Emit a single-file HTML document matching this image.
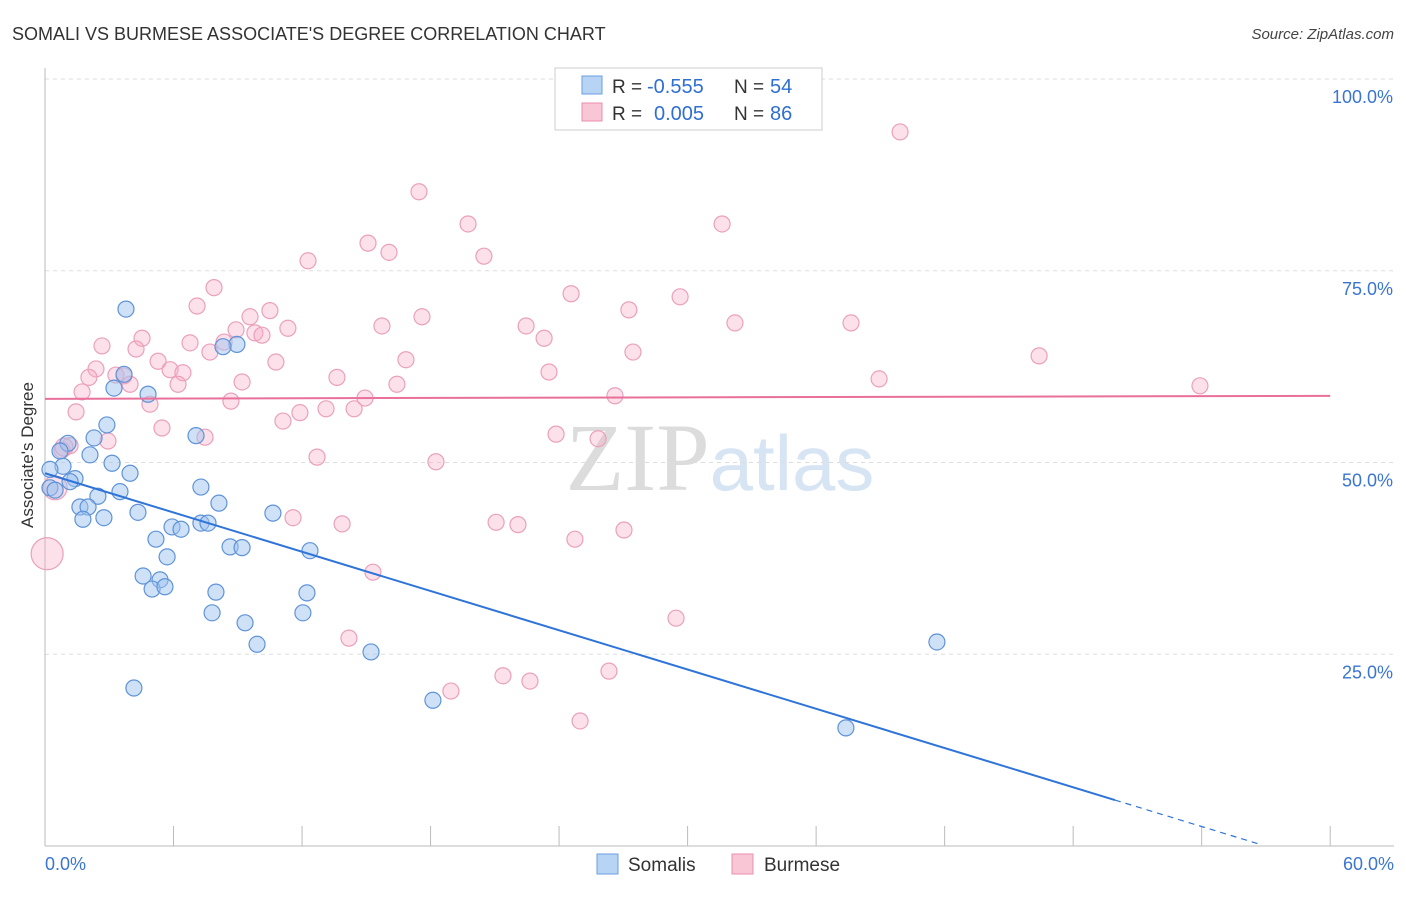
<!DOCTYPE html>
<html><head><meta charset="utf-8"><style>
body{margin:0;background:#fff;font-family:"Liberation Sans",sans-serif;}
svg text{font-family:"Liberation Sans",sans-serif;}
</style></head><body>
<svg id="chart" width="1406" height="892" xmlns="http://www.w3.org/2000/svg">
<text x="12" y="40" font-size="18" fill="#333">SOMALI VS BURMESE ASSOCIATE'S DEGREE CORRELATION CHART</text>
<text x="1394" y="39" font-size="15" fill="#444" font-style="italic" text-anchor="end">Source: ZipAtlas.com</text>
<text x="720" y="490" font-size="96" text-anchor="middle" fill="#e4e4e4"><tspan font-family="Liberation Serif" fill="#dcdcdc">ZIP</tspan><tspan fill="#d6e4f4" font-size="78">atlas</tspan></text>
<g id="grid"></g>
<g id="axes"></g>
<g id="pts"></g>
<g id="trends"></g>
<text transform="translate(33,455) rotate(-90)" font-size="17" fill="#333" text-anchor="middle">Associate's Degree</text>
<g>
<rect x="555" y="68" width="267" height="62" fill="#fff" stroke="#ccc"/>
<rect x="582" y="76" width="20" height="18" fill="#b8d4f4" stroke="#6a9ee0"/>
<rect x="582" y="103" width="20" height="18" fill="#f9c6d6" stroke="#e890b0"/>
<text x="612" y="93" font-size="19" fill="#333">R =</text>
<text x="647" y="93" font-size="20" fill="#2f6fd0">-0.555</text>
<text x="734" y="93" font-size="19" fill="#333">N =</text>
<text x="770" y="93" font-size="20" fill="#2f6fd0">54</text>
<text x="612" y="120" font-size="19" fill="#333">R =</text>
<text x="654" y="120" font-size="20" fill="#2f6fd0">0.005</text>
<text x="734" y="120" font-size="19" fill="#333">N =</text>
<text x="770" y="120" font-size="20" fill="#2f6fd0">86</text>
</g>
<g>
<rect x="597" y="854" width="21" height="20" fill="#b8d4f4" stroke="#6a9ee0"/>
<text x="628" y="871" font-size="19" fill="#333">Somalis</text>
<rect x="732" y="854" width="21" height="20" fill="#f9c6d6" stroke="#e890b0"/>
<text x="764" y="871" font-size="19" fill="#333">Burmese</text>
</g>
</svg>
<script>
const xTicks=[0,6,12,18,24,30,36,42,48,54,60];
const yTickVals=[25,50,75,100];
const yTickLabels=["25.0%","50.0%","75.0%","100.0%"];
const xEndLabels=["0.0%","60.0%"];
const somaliX=[3.78,3.22,3.69,4.81,2.89,2.29,1.07,0.70,2.10,0.84,0.23,3.13,3.97,1.40,1.17,0.23,0.47,2.47,3.50,1.63,2.01,1.77,2.75,4.34,7.05,7.28,8.12,5.93,6.35,7.28,7.61,5.18,5.70,4.58,5.37,5.00,5.60,7.98,7.80,8.64,9.20,9.34,9.90,10.64,12.37,12.23,12.04,8.96,8.31,4.15,15.22,18.11,41.64,37.39];
const somaliY=[70.0,59.7,61.5,58.9,54.9,53.2,52.5,51.5,51.0,49.5,49.1,49.9,48.6,47.9,47.5,46.7,46.4,45.6,46.2,44.2,44.2,42.6,42.8,43.5,53.5,46.8,44.7,41.6,41.3,42.1,42.1,40.0,37.7,35.2,34.7,33.5,33.8,33.1,30.4,39.0,38.9,29.1,26.3,43.4,38.5,33.0,30.4,65.4,65.1,20.6,25.3,19.0,26.6,15.4];
const burmeseX=[39.92,17.46,19.75,31.61,15.08,16.06,20.49,12.28,7.89,24.56,29.65,7.10,27.26,10.50,17.60,9.57,8.92,11.34,15.73,22.46,32.21,37.63,4.53,9.80,10.13,23.30,2.66,6.77,8.36,7.70,4.25,27.45,5.28,10.78,16.85,46.41,2.38,5.84,6.44,3.31,2.05,3.69,3.97,13.63,23.53,6.21,9.20,16.43,38.94,53.92,1.73,26.61,14.94,8.68,4.90,1.45,13.12,14.43,11.90,11.11,5.46,7.47,2.94,23.86,25.82,1.17,0.79,12.70,18.25,21.06,22.08,13.87,11.58,24.74,27.03,15.31,29.46,14.19,26.33,21.38,22.64,18.95,24.98,0.10,0.47,0.89];
const burmeseY=[93.1,85.3,81.1,81.1,78.6,77.4,76.9,76.3,72.8,72.0,71.6,70.4,69.9,69.8,69.0,69.0,67.3,67.5,67.8,67.8,68.2,68.2,66.2,66.9,66.6,66.2,65.2,65.6,65.7,64.4,64.8,64.4,63.2,63.1,63.4,63.9,62.2,62.1,61.7,61.4,61.1,61.3,60.2,61.1,61.8,60.2,60.5,60.2,60.9,60.0,59.2,58.7,58.4,58.0,57.6,56.6,57.0,57.0,56.5,55.4,54.5,53.3,52.8,53.7,53.1,52.2,51.6,50.7,50.1,42.2,41.9,42.0,42.8,40.0,41.2,35.7,29.7,27.1,22.8,22.2,21.5,20.2,16.3,38.1,46.7,52.0];
const burmeseR=[8,8,8,8,8,8,8,8,8,8,8,8,8,8,8,8,8,8,8,8,8,8,8,8,8,8,8,8,8,8,8,8,8,8,8,8,8,8,8,8,8,8,8,8,8,8,8,8,8,8,8,8,8,8,8,8,8,8,8,8,8,8,8,8,8,8,8,8,8,8,8,8,8,8,8,8,8,8,8,8,8,8,8,16,12,9];
const somaliTrend=[48.6,-0.853];
const burmeseTrend=[58.3,0.0065];
const somaliSolidEnd=49.95, somaliDashEnd=56.7;

const X=v=>45+v*21.42, Y=v=>846-v*7.67;
const NS="http://www.w3.org/2000/svg";
function mk(parent,tag,attrs){const e=document.createElementNS(NS,tag);for(const k in attrs)e.setAttribute(k,attrs[k]);document.getElementById(parent).appendChild(e);return e;}

yTickVals.forEach((v,i)=>{
 const l=mk('grid','line',{x1:45,x2:1394,y1:Y(v),y2:Y(v),stroke:'#ddd','stroke-dasharray':'4,4'});
 
 
 const t=mk('axes','text',{x:1393,y:Y(v)+24,'font-size':18,fill:'#3a75d0','text-anchor':'end'});
 t.textContent=yTickLabels[i];
 
 
});
const ya=mk('axes','line',{x1:45,x2:45,y1:68,y2:846,stroke:'#bbb'});


const xa=mk('axes','line',{x1:45,x2:1394,y1:846,y2:846,stroke:'#bbb'});


xTicks.forEach(v=>{
 const t=mk('axes','line',{x1:X(v),x2:X(v),y1:826,y2:846,stroke:'#bbb'});
 
 
});
[[0,'start',45],[60,'end',1394]].forEach((a,i)=>{
 const t=mk('axes','text',{x:a[2],y:870,'font-size':18,fill:'#3a75d0','text-anchor':a[1]});
 t.textContent=xEndLabels[i];
 
 
});
burmeseX.forEach((x,i)=>{
 const c=mk('pts','circle',{cx:X(x),cy:Y(burmeseY[i]),r:burmeseR[i],fill:'rgba(245,170,195,0.35)',stroke:'#eba0bb','stroke-width':1.2});
 
 
});
somaliX.forEach((x,i)=>{
 const c=mk('pts','circle',{cx:X(x),cy:Y(somaliY[i]),r:8,fill:'rgba(160,196,240,0.5)',stroke:'#5f93d8','stroke-width':1.2});
 
 
});
const sf=x=>somaliTrend[0]+somaliTrend[1]*x, bf=x=>burmeseTrend[0]+burmeseTrend[1]*x;
const l1=mk('trends','line',{x1:X(0),y1:Y(sf(0)),x2:X(somaliSolidEnd),y2:Y(sf(somaliSolidEnd)),stroke:'#2f74d8','stroke-width':2});


const l2=mk('trends','line',{x1:X(somaliSolidEnd),y1:Y(sf(somaliSolidEnd)),x2:X(somaliDashEnd),y2:Y(sf(somaliDashEnd)),stroke:'#2f74d8','stroke-width':1.2,'stroke-dasharray':'6,5'});


const l3=mk('trends','line',{x1:X(0),y1:Y(bf(0)),x2:X(60),y2:Y(bf(60)),stroke:'#e8709a','stroke-width':2});


</script>
</body></html>
